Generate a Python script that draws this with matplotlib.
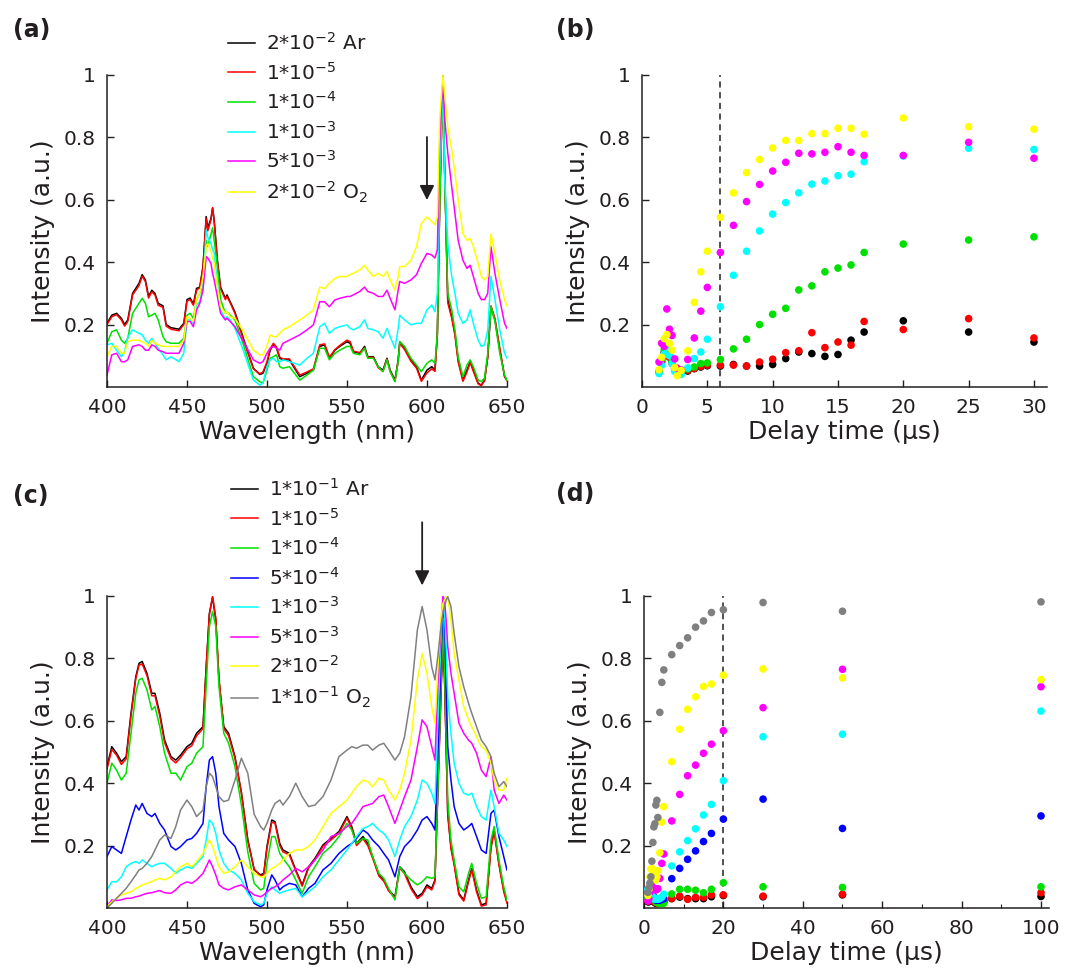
import matplotlib
matplotlib.use("Agg")
import matplotlib.pyplot as plt
from matplotlib.ticker import FuncFormatter, MultipleLocator

plt.rcParams['font.family'] = ['DejaVu Sans']
plt.rcParams['mathtext.default'] = 'regular'

# ---------------- panel (a): spectra, 2*10^-2 mixture series ----------------
WL_A = [400, 403, 406, 409, 411, 413, 416, 420, 422, 424,
        426, 428, 430, 432, 435, 437, 440, 445, 448, 450,
        452, 454, 456, 458, 460, 462, 463, 465, 466, 467,
        469, 471, 474, 475, 477, 480, 485, 491.5, 495.5, 497.5,
        500, 502, 504, 506, 508, 510, 514, 520.5, 525, 529,
        533, 536, 539, 542.5, 545.5, 550, 552, 554, 558, 561,
        563, 566.5, 569.5, 572.5, 575, 577, 580, 582, 583, 586,
        590, 593.5, 596.5, 600, 603, 605, 606.5, 608, 610, 611,
        613, 615.5, 617.5, 619.5, 622.5, 625, 627, 629, 632, 634,
        636, 638, 640, 642.5, 645.5, 648.5, 650]

A_ar = [0.204, 0.23, 0.236, 0.22, 0.20, 0.215, 0.30, 0.332, 0.36, 0.343,
        0.29, 0.31, 0.30, 0.268, 0.26, 0.20, 0.19, 0.185, 0.204, 0.28,
        0.285, 0.266, 0.316, 0.32, 0.386, 0.546, 0.51, 0.54, 0.573, 0.535,
        0.407, 0.32, 0.284, 0.295, 0.273, 0.24, 0.16, 0.06, 0.04, 0.044,
        0.076, 0.118, 0.135, 0.124, 0.092, 0.087, 0.087, 0.033, 0.044, 0.054,
        0.13, 0.135, 0.092, 0.118, 0.13, 0.145, 0.14, 0.113, 0.108, 0.13,
        0.097, 0.097, 0.065, 0.054, 0.092, 0.054, 0.022, 0.087, 0.145, 0.124,
        0.087, 0.065, 0.022, 0.054, 0.065, 0.054, 0.17, 0.6, 1.0, 0.706,
        0.28, 0.225, 0.172, 0.087, 0.022, 0.054, 0.081, 0.054, 0.012, 0.006,
        0.022, 0.097, 0.257, 0.215, 0.12, 0.033, 0.022]
A_1e5 = [0.20, 0.225, 0.232, 0.215, 0.195, 0.21, 0.295, 0.325, 0.355, 0.338,
         0.285, 0.305, 0.295, 0.262, 0.255, 0.195, 0.185, 0.18, 0.2, 0.275,
         0.28, 0.262, 0.31, 0.318, 0.38, 0.54, 0.5, 0.535, 0.575, 0.53,
         0.40, 0.315, 0.28, 0.29, 0.27, 0.235, 0.155, 0.058, 0.042, 0.048,
         0.08, 0.122, 0.14, 0.128, 0.095, 0.09, 0.09, 0.038, 0.048, 0.058,
         0.135, 0.138, 0.095, 0.12, 0.133, 0.15, 0.145, 0.115, 0.11, 0.125,
         0.095, 0.095, 0.062, 0.05, 0.09, 0.05, 0.018, 0.082, 0.14, 0.12,
         0.082, 0.06, 0.018, 0.045, 0.058, 0.05, 0.165, 0.6, 0.995, 0.71,
         0.27, 0.22, 0.165, 0.08, 0.018, 0.048, 0.078, 0.05, 0.01, 0.004,
         0.02, 0.095, 0.26, 0.22, 0.125, 0.035, 0.02]
A_1e4 = [0.14, 0.177, 0.183, 0.15, 0.14, 0.156, 0.236, 0.268, 0.284, 0.268,
         0.225, 0.23, 0.236, 0.215, 0.161, 0.145, 0.14, 0.14, 0.156, 0.23,
         0.236, 0.22, 0.28, 0.30, 0.32, 0.47, 0.45, 0.49, 0.51, 0.47,
         0.386, 0.28, 0.236, 0.24, 0.23, 0.215, 0.14, 0.033, 0.017, 0.012,
         0.054, 0.092, 0.097, 0.103, 0.065, 0.06, 0.065, 0.022, 0.038, 0.054,
         0.124, 0.124, 0.087, 0.108, 0.118, 0.13, 0.13, 0.108, 0.103, 0.124,
         0.092, 0.092, 0.065, 0.049, 0.087, 0.049, 0.017, 0.081, 0.145, 0.13,
         0.092, 0.07, 0.049, 0.076, 0.087, 0.076, 0.17, 0.58, 0.98, 0.685,
         0.30, 0.247, 0.183, 0.097, 0.033, 0.07, 0.087, 0.065, 0.022, 0.017,
         0.028, 0.108, 0.257, 0.21, 0.108, 0.038, 0.022]
A_1e3 = [0.135, 0.14, 0.118, 0.097, 0.113, 0.16, 0.183, 0.172, 0.167, 0.15,
         0.14, 0.156, 0.14, 0.124, 0.103, 0.087, 0.097, 0.081, 0.108, 0.215,
         0.215, 0.204, 0.263, 0.273, 0.32, 0.503, 0.48, 0.46, 0.44, 0.43,
         0.332, 0.247, 0.215, 0.225, 0.215, 0.188, 0.12, 0.022, 0.006, 0.012,
         0.065, 0.087, 0.092, 0.081, 0.081, 0.087, 0.081, 0.07, 0.092, 0.108,
         0.193, 0.204, 0.172, 0.188, 0.193, 0.199, 0.188, 0.183, 0.193, 0.215,
         0.188, 0.183, 0.177, 0.156, 0.188, 0.161, 0.124, 0.188, 0.23, 0.215,
         0.199, 0.204, 0.204, 0.247, 0.263, 0.241, 0.30, 0.706, 0.973, 0.685,
         0.46, 0.354, 0.30, 0.236, 0.204, 0.215, 0.247, 0.204, 0.15, 0.13,
         0.135, 0.183, 0.354, 0.28, 0.183, 0.108, 0.092]
A_5e3 = [0.038, 0.103, 0.108, 0.081, 0.081, 0.087, 0.13, 0.135, 0.13, 0.118,
         0.118, 0.135, 0.13, 0.118, 0.113, 0.108, 0.108, 0.108, 0.14, 0.21,
         0.21, 0.193, 0.247, 0.268, 0.31, 0.418, 0.413, 0.396, 0.364, 0.343,
         0.29, 0.236, 0.215, 0.22, 0.21, 0.193, 0.148, 0.087, 0.076, 0.081,
         0.108, 0.124, 0.13, 0.124, 0.118, 0.14, 0.15, 0.167, 0.183, 0.199,
         0.273, 0.273, 0.257, 0.279, 0.284, 0.29, 0.29, 0.295, 0.306, 0.32,
         0.306, 0.30, 0.29, 0.29, 0.31, 0.284, 0.247, 0.31, 0.338, 0.332,
         0.343, 0.36, 0.396, 0.428, 0.423, 0.413, 0.44, 0.79, 0.985, 0.866,
         0.75, 0.64, 0.556, 0.47, 0.406, 0.38, 0.39, 0.354, 0.30, 0.28,
         0.28, 0.30, 0.45, 0.364, 0.28, 0.204, 0.188]
A_o2 = [0.097, 0.13, 0.13, 0.108, 0.108, 0.145, 0.15, 0.15, 0.145, 0.14,
        0.13, 0.15, 0.14, 0.135, 0.13, 0.13, 0.13, 0.13, 0.15, 0.225,
        0.22, 0.21, 0.28, 0.30, 0.354, 0.45, 0.46, 0.434, 0.413, 0.396,
        0.32, 0.257, 0.236, 0.241, 0.225, 0.22, 0.18, 0.118, 0.103, 0.103,
        0.13, 0.167, 0.161, 0.161, 0.172, 0.183, 0.193, 0.215, 0.23, 0.247,
        0.32, 0.316, 0.332, 0.348, 0.354, 0.354, 0.36, 0.364, 0.375, 0.39,
        0.375, 0.354, 0.364, 0.354, 0.37, 0.343, 0.31, 0.354, 0.386, 0.386,
        0.406, 0.45, 0.524, 0.545, 0.53, 0.52, 0.545, 0.866, 1.0, 0.94,
        0.834, 0.76, 0.685, 0.60, 0.492, 0.47, 0.476, 0.45, 0.396, 0.354,
        0.343, 0.354, 0.49, 0.428, 0.343, 0.28, 0.26]

LABELS_A = [r'2*10$^{-2}$ Ar', r'1*10$^{-5}$', r'1*10$^{-4}$',
            r'1*10$^{-3}$', r'5*10$^{-3}$', r'2*10$^{-2}$ O$_2$']
COLORS_A = ['black', '#ff0000', '#00e000', '#00ffff', '#ff00ff', '#ffff00']
ARROW_A = 600

# ---------------- panel (b): intensity vs delay time ----------------
T_B = [1.3, 1.5, 1.7, 1.9, 2.1, 2.3, 2.5, 2.7, 3.0, 3.5, 4, 4.5, 5, 6,
       7, 8, 9, 10, 11, 12, 13, 14, 15, 16, 17, 20, 25, 30]
B_ar = [0.05, 0.08, 0.11, 0.115, 0.10, 0.08, 0.06, 0.055, 0.05, 0.051, 0.059, 0.064, 0.068, 0.067,
        0.072, 0.067, 0.067, 0.072, 0.091, 0.112, 0.107, 0.098, 0.104, 0.15, 0.176, 0.212, 0.176, 0.144]
B_1e5 = [0.05, 0.085, 0.10, 0.10, 0.095, 0.075, 0.06, 0.055, 0.05, 0.053, 0.059, 0.066, 0.07, 0.07,
         0.07, 0.067, 0.08, 0.089, 0.11, 0.116, 0.174, 0.126, 0.144, 0.134, 0.21, 0.184, 0.219, 0.157]
B_1e4 = [0.05, 0.09, 0.12, 0.13, 0.11, 0.08, 0.06, 0.05, 0.045, 0.058, 0.064, 0.075, 0.077, 0.088,
         0.122, 0.153, 0.20, 0.233, 0.252, 0.311, 0.324, 0.369, 0.381, 0.391, 0.431, 0.458, 0.471, 0.481]
B_1e3 = [0.043, 0.07, 0.105, 0.125, 0.10, 0.075, 0.05, 0.045, 0.04, 0.061, 0.091, 0.112, 0.153, 0.257,
         0.358, 0.435, 0.50, 0.554, 0.591, 0.622, 0.65, 0.66, 0.677, 0.682, 0.722, 0.74, 0.765, 0.761]
B_5e3 = [0.08, 0.14, 0.13, 0.25, 0.185, 0.165, 0.09, 0.06, 0.055, 0.088, 0.157, 0.243, 0.319, 0.431,
         0.518, 0.594, 0.649, 0.692, 0.72, 0.749, 0.747, 0.752, 0.77, 0.752, 0.742, 0.742, 0.784, 0.733]
B_o2 = [0.055, 0.095, 0.155, 0.168, 0.14, 0.118, 0.062, 0.036, 0.053, 0.116, 0.271, 0.369, 0.435, 0.544,
        0.622, 0.687, 0.729, 0.766, 0.79, 0.79, 0.812, 0.812, 0.829, 0.829, 0.81, 0.862, 0.834, 0.826]
CUTOFF_B = 6

# ---------------- panel (c): spectra, 1*10^-1 mixture series ----------------
WL_C = [400, 403, 406, 409, 412, 415, 418, 420, 422, 425,
        428, 430, 433, 436, 440, 443, 446, 450, 453, 456,
        460, 462, 464, 466, 468, 470, 473, 476, 480, 484,
        488, 492, 496, 498, 500, 503, 505, 508, 510, 514,
        518, 522, 526, 530, 535, 540, 545, 550, 553, 556,
        560, 563, 566, 570, 573, 576, 580, 583, 586, 590,
        594, 597, 600, 603, 605, 607, 609, 610, 611, 612,
        613, 615, 617, 620, 623, 626, 628, 631, 634, 637,
        640, 642, 645, 648, 650]

C_ar = [0.453, 0.517, 0.496, 0.469, 0.485, 0.624, 0.741, 0.784, 0.79, 0.752,
        0.688, 0.688, 0.624, 0.538, 0.485, 0.474, 0.49, 0.517, 0.528, 0.56,
        0.581, 0.773, 0.944, 0.995, 0.923, 0.731, 0.581, 0.56, 0.485, 0.37,
        0.22, 0.122, 0.106, 0.111, 0.197, 0.282, 0.277, 0.207, 0.186, 0.175,
        0.122, 0.074, 0.132, 0.159, 0.202, 0.223, 0.245, 0.293, 0.261, 0.207,
        0.229, 0.207, 0.165, 0.106, 0.09, 0.058, 0.036, 0.132, 0.116, 0.068,
        0.036, 0.047, 0.074, 0.063, 0.09, 0.41, 0.73, 0.859, 0.73, 0.517,
        0.30, 0.197, 0.143, 0.047, 0.026, 0.09, 0.127, 0.058, 0.01, 0.015,
        0.197, 0.25, 0.143, 0.058, 0.02]
C_1e5 = [0.445, 0.508, 0.49, 0.46, 0.478, 0.615, 0.735, 0.778, 0.782, 0.745,
         0.68, 0.68, 0.615, 0.53, 0.478, 0.465, 0.482, 0.51, 0.52, 0.552,
         0.575, 0.77, 0.94, 1.0, 0.93, 0.735, 0.575, 0.552, 0.48, 0.37,
         0.215, 0.125, 0.102, 0.108, 0.19, 0.275, 0.272, 0.2, 0.18, 0.17,
         0.118, 0.07, 0.128, 0.155, 0.198, 0.218, 0.24, 0.288, 0.255, 0.2,
         0.222, 0.2, 0.16, 0.102, 0.086, 0.055, 0.032, 0.128, 0.11, 0.062,
         0.03, 0.042, 0.068, 0.058, 0.085, 0.4, 0.72, 0.85, 0.74, 0.52,
         0.3, 0.19, 0.138, 0.042, 0.022, 0.085, 0.122, 0.052, 0.006, 0.01,
         0.19, 0.245, 0.138, 0.052, 0.016]
C_1e4 = [0.40, 0.464, 0.442, 0.41, 0.432, 0.56, 0.688, 0.731, 0.736, 0.699,
         0.635, 0.646, 0.581, 0.496, 0.432, 0.432, 0.41, 0.453, 0.464, 0.496,
         0.517, 0.709, 0.902, 0.95, 0.902, 0.709, 0.56, 0.528, 0.453, 0.33,
         0.18, 0.079, 0.058, 0.063, 0.143, 0.229, 0.229, 0.175, 0.159, 0.132,
         0.09, 0.047, 0.10, 0.132, 0.175, 0.197, 0.229, 0.271, 0.25, 0.207,
         0.223, 0.218, 0.165, 0.111, 0.095, 0.063, 0.026, 0.132, 0.111, 0.09,
         0.074, 0.084, 0.10, 0.095, 0.10, 0.41, 0.752, 0.923, 0.773, 0.56,
         0.346, 0.218, 0.154, 0.068, 0.052, 0.111, 0.143, 0.079, 0.031, 0.036,
         0.218, 0.261, 0.154, 0.068, 0.026]
C_5e4 = [0.165, 0.197, 0.186, 0.175, 0.229, 0.282, 0.33, 0.314, 0.335, 0.303,
         0.293, 0.303, 0.271, 0.25, 0.197, 0.186, 0.197, 0.218, 0.223, 0.239,
         0.271, 0.389, 0.474, 0.485, 0.432, 0.325, 0.239, 0.218, 0.197, 0.143,
         0.058, 0.015, 0.004, 0.01, 0.058, 0.106, 0.09, 0.058, 0.068, 0.079,
         0.074, 0.036, 0.063, 0.079, 0.122, 0.143, 0.175, 0.197, 0.207, 0.223,
         0.25, 0.239, 0.218, 0.197, 0.175, 0.154, 0.10, 0.165, 0.197, 0.218,
         0.25, 0.282, 0.293, 0.271, 0.25, 0.517, 0.838, 0.966, 0.923, 0.709,
         0.517, 0.41, 0.325, 0.271, 0.25, 0.261, 0.271, 0.229, 0.186, 0.175,
         0.303, 0.314, 0.229, 0.165, 0.122]
C_1e3 = [0.058, 0.084, 0.084, 0.10, 0.132, 0.143, 0.149, 0.143, 0.154, 0.143,
         0.132, 0.138, 0.143, 0.143, 0.127, 0.111, 0.122, 0.132, 0.127, 0.143,
         0.165, 0.218, 0.282, 0.271, 0.239, 0.186, 0.143, 0.122, 0.111, 0.09,
         0.047, 0.02, 0.01, 0.015, 0.047, 0.068, 0.058, 0.047, 0.052, 0.058,
         0.063, 0.036, 0.052, 0.068, 0.10, 0.122, 0.154, 0.186, 0.207, 0.229,
         0.255, 0.261, 0.271, 0.25, 0.239, 0.218, 0.165, 0.218, 0.261, 0.293,
         0.346, 0.41, 0.40, 0.368, 0.335, 0.624, 0.891, 0.976, 0.944, 0.838,
         0.677, 0.56, 0.464, 0.40, 0.368, 0.362, 0.368, 0.325, 0.293, 0.282,
         0.378, 0.325, 0.239, 0.218, 0.197]
C_5e3 = [0.004, 0.026, 0.024, 0.026, 0.031, 0.031, 0.036, 0.038, 0.042, 0.047,
         0.049, 0.052, 0.056, 0.049, 0.047, 0.058, 0.074, 0.084, 0.079, 0.09,
         0.111, 0.132, 0.154, 0.132, 0.106, 0.074, 0.063, 0.058, 0.068, 0.074,
         0.058, 0.042, 0.036, 0.042, 0.052, 0.063, 0.068, 0.079, 0.09, 0.106,
         0.127, 0.116, 0.132, 0.154, 0.186, 0.229, 0.239, 0.261, 0.271, 0.293,
         0.325, 0.33, 0.335, 0.357, 0.362, 0.325, 0.271, 0.314, 0.357, 0.41,
         0.517, 0.603, 0.581, 0.517, 0.474, 0.731, 0.923, 1.0, 0.987, 0.923,
         0.838, 0.752, 0.688, 0.592, 0.56, 0.538, 0.528, 0.496, 0.442, 0.421,
         0.485, 0.378, 0.335, 0.362, 0.346]
C_2e2 = [0.004, 0.02, 0.031, 0.042, 0.047, 0.052, 0.063, 0.068, 0.074, 0.079,
         0.084, 0.09, 0.095, 0.09, 0.10, 0.116, 0.132, 0.143, 0.132, 0.149,
         0.175, 0.197, 0.218, 0.197, 0.165, 0.132, 0.111, 0.116, 0.132, 0.154,
         0.132, 0.111, 0.10, 0.098, 0.111, 0.127, 0.132, 0.143, 0.154, 0.175,
         0.186, 0.186, 0.197, 0.218, 0.261, 0.303, 0.325, 0.346, 0.368, 0.389,
         0.41, 0.405, 0.389, 0.416, 0.41, 0.378, 0.346, 0.378, 0.432, 0.538,
         0.731, 0.816, 0.752, 0.645, 0.592, 0.784, 0.944, 0.976, 0.987, 0.998,
         0.998, 0.923, 0.816, 0.731, 0.645, 0.603, 0.581, 0.549, 0.517, 0.506,
         0.464, 0.41, 0.378, 0.378, 0.416]
C_o2 = [0.0, 0.015, 0.031, 0.047, 0.063, 0.084, 0.106, 0.122, 0.127, 0.143,
        0.165, 0.186, 0.218, 0.234, 0.223, 0.261, 0.314, 0.346, 0.325, 0.293,
        0.314, 0.389, 0.432, 0.421, 0.389, 0.357, 0.341, 0.346, 0.41, 0.48,
        0.432, 0.30, 0.261, 0.25, 0.271, 0.314, 0.335, 0.346, 0.33, 0.357,
        0.40, 0.357, 0.325, 0.33, 0.357, 0.41, 0.485, 0.506, 0.517, 0.512,
        0.522, 0.522, 0.506, 0.522, 0.528, 0.506, 0.474, 0.496, 0.549, 0.677,
        0.891, 0.966, 0.891, 0.773, 0.731, 0.816, 0.912, 0.944, 0.966, 0.987,
        0.998, 0.966, 0.88, 0.773, 0.709, 0.656, 0.624, 0.581, 0.538, 0.517,
        0.485, 0.432, 0.389, 0.405, 0.389]

LABELS_C = [r'1*10$^{-1}$ Ar', r'1*10$^{-5}$', r'1*10$^{-4}$', r'5*10$^{-4}$',
            r'1*10$^{-3}$', r'5*10$^{-3}$', r'2*10$^{-2}$', r'1*10$^{-1}$ O$_2$']
COLORS_C = ['black', '#ff0000', '#00e000', '#0000ff', '#00ffff', '#ff00ff', '#ffff00', '#808080']
ARROW_C = 597

# ---------------- panel (d): intensity vs delay time ----------------
T_D = [1.0, 1.25, 1.5, 1.75, 2.0, 2.25, 2.5, 2.75, 3.0, 3.25, 3.5, 4.0, 4.5, 5.0,
       7, 9, 11, 13, 15, 17, 20, 30, 50, 100]
D_ar = [0.02, 0.02, 0.025, 0.03, 0.03, 0.025, 0.02, 0.018, 0.015, 0.015, 0.015, 0.015, 0.018, 0.02,
        0.03, 0.035, 0.03, 0.03, 0.03, 0.036, 0.04, 0.036, 0.042, 0.037]
D_1e5 = [0.022, 0.025, 0.03, 0.032, 0.03, 0.028, 0.022, 0.02, 0.018, 0.016, 0.016, 0.016, 0.02, 0.022,
         0.031, 0.038, 0.028, 0.034, 0.034, 0.042, 0.042, 0.038, 0.044, 0.049]
D_1e4 = [0.03, 0.035, 0.04, 0.045, 0.04, 0.035, 0.03, 0.025, 0.02, 0.018, 0.016, 0.015, 0.015, 0.015,
         0.045, 0.06, 0.06, 0.057, 0.049, 0.06, 0.081, 0.068, 0.066, 0.068]
D_5e4 = [0.04, 0.05, 0.055, 0.05, 0.045, 0.04, 0.035, 0.03, 0.025, 0.025, 0.025, 0.025, 0.028, 0.03,
         0.094, 0.127, 0.156, 0.183, 0.213, 0.239, 0.285, 0.349, 0.255, 0.295]
D_1e3 = [0.06, 0.055, 0.05, 0.045, 0.04, 0.035, 0.03, 0.028, 0.03, 0.03, 0.028, 0.03, 0.035, 0.044,
         0.135, 0.18, 0.216, 0.254, 0.298, 0.332, 0.408, 0.549, 0.557, 0.631]
D_5e3 = [0.023, 0.03, 0.05, 0.074, 0.07, 0.065, 0.063, 0.06, 0.058, 0.06, 0.062, 0.095, 0.143, 0.173,
         0.279, 0.364, 0.424, 0.458, 0.496, 0.525, 0.568, 0.642, 0.765, 0.709]
D_2e2 = [0.04, 0.06, 0.10, 0.125, 0.127, 0.12, 0.11, 0.095, 0.09, 0.10, 0.12, 0.177, 0.275, 0.325,
         0.469, 0.573, 0.637, 0.677, 0.71, 0.718, 0.746, 0.766, 0.737, 0.732]
D_o2 = [0.05, 0.065, 0.08, 0.10, 0.15, 0.21, 0.26, 0.27, 0.33, 0.345, 0.29, 0.627, 0.723, 0.763,
        0.812, 0.841, 0.866, 0.90, 0.92, 0.947, 0.956, 0.979, 0.951, 0.981]
CUTOFF_D = 20

TXT = '#231f20'
fig = plt.figure(figsize=(10.72, 9.73), dpi=100)


def style(ax, xlabel):
    for s in ('top', 'right'):
        ax.spines[s].set_visible(False)
    for s in ('left', 'bottom'):
        ax.spines[s].set_color(TXT)
        ax.spines[s].set_linewidth(1.1)
    ax.tick_params(direction='in', length=5, width=1, colors=TXT, labelsize=14.5, pad=8)
    ax.tick_params(which='minor', direction='in', length=3, width=0.8, colors=TXT)
    ax.set_ylim(0, 1)
    ax.set_yticks([0.2, 0.4, 0.6, 0.8, 1.0])
    ax.yaxis.set_major_formatter(FuncFormatter(lambda v, _: f'{v:g}'))
    ax.set_xlabel(xlabel, fontsize=18, color=TXT, labelpad=2)
    ax.set_ylabel('Intensity (a.u.)', fontsize=18, color=TXT, labelpad=6)


# (a)
ax_a = fig.add_axes([0.0998, 0.6023, 0.3731, 0.3207])
for ys, c, lab in zip([A_ar, A_1e5, A_1e4, A_1e3, A_5e3, A_o2], COLORS_A, LABELS_A):
    ax_a.plot(WL_A, ys, color=c, lw=1.1, label=lab)
ax_a.set_xlim(400, 650)
ax_a.set_xticks(range(400, 651, 50))
style(ax_a, 'Wavelength (nm)')
ax_a.annotate('', xy=(ARROW_A, 0.59), xytext=(ARROW_A, 0.81),
              arrowprops=dict(arrowstyle='-|>', color=TXT, lw=1.3, mutation_scale=22))
ax_a.legend(loc='upper left', bbox_to_anchor=(228 / 1072, 1 - 32 / 973),
            bbox_transform=fig.transFigure, frameon=False, fontsize=14.5,
            borderpad=0, borderaxespad=0, handlelength=1.35, handletextpad=0.55,
            labelspacing=0.38, labelcolor=TXT)

# (b)
ax_b = fig.add_axes([0.5989, 0.6023, 0.3778, 0.3207])
for ys, c in zip([B_ar, B_1e5, B_1e4, B_1e3, B_5e3, B_o2], COLORS_A):
    ax_b.scatter(T_B, ys, s=30, color=c, edgecolors='none', zorder=3)
ax_b.axvline(CUTOFF_B, color=TXT, lw=1.1, linestyle=(0, (4, 3)), zorder=2)
ax_b.set_xlim(0, 31)
ax_b.set_xticks(range(0, 31, 5))
style(ax_b, 'Delay time (μs)')

# (c)
ax_c = fig.add_axes([0.0998, 0.0668, 0.3731, 0.3207])
for ys, c, lab in zip([C_ar, C_1e5, C_1e4, C_5e4, C_1e3, C_5e3, C_2e2, C_o2], COLORS_C, LABELS_C):
    ax_c.plot(WL_C, ys, color=c, lw=1.1, label=lab)
ax_c.set_xlim(400, 650)
ax_c.set_xticks(range(400, 651, 50))
style(ax_c, 'Wavelength (nm)')
ax_c.annotate('', xy=(ARROW_C, 1.025), xytext=(ARROW_C, 1.245), annotation_clip=False,
              arrowprops=dict(arrowstyle='-|>', color=TXT, lw=1.3, mutation_scale=22))
ax_c.legend(loc='upper left', bbox_to_anchor=(231 / 1072, 1 - 478 / 973),
            bbox_transform=fig.transFigure, frameon=False, fontsize=14.5,
            borderpad=0, borderaxespad=0, handlelength=1.35, handletextpad=0.55,
            labelspacing=0.38, labelcolor=TXT)

# (d)
ax_d = fig.add_axes([0.6007, 0.0668, 0.3778, 0.3207])
for ys, c in zip([D_ar, D_1e5, D_1e4, D_5e4, D_1e3, D_5e3, D_2e2, D_o2], COLORS_C):
    ax_d.scatter(T_D, ys, s=30, color=c, edgecolors='none', zorder=3)
ax_d.axvline(CUTOFF_D, color=TXT, lw=1.1, linestyle=(0, (4, 3)), zorder=2)
ax_d.set_xlim(0, 102)
ax_d.set_xticks(range(0, 101, 20))
ax_d.xaxis.set_minor_locator(MultipleLocator(10))
style(ax_d, 'Delay time (μs)')

for lab, x, y in [('(a)', 0.012, 0.982), ('(b)', 0.519, 0.982),
                  ('(c)', 0.012, 0.503), ('(d)', 0.519, 0.505)]:
    fig.text(x, y, lab, fontsize=17, fontweight='bold', color=TXT, va='top', ha='left')

fig.savefig('out.png', dpi=100)
